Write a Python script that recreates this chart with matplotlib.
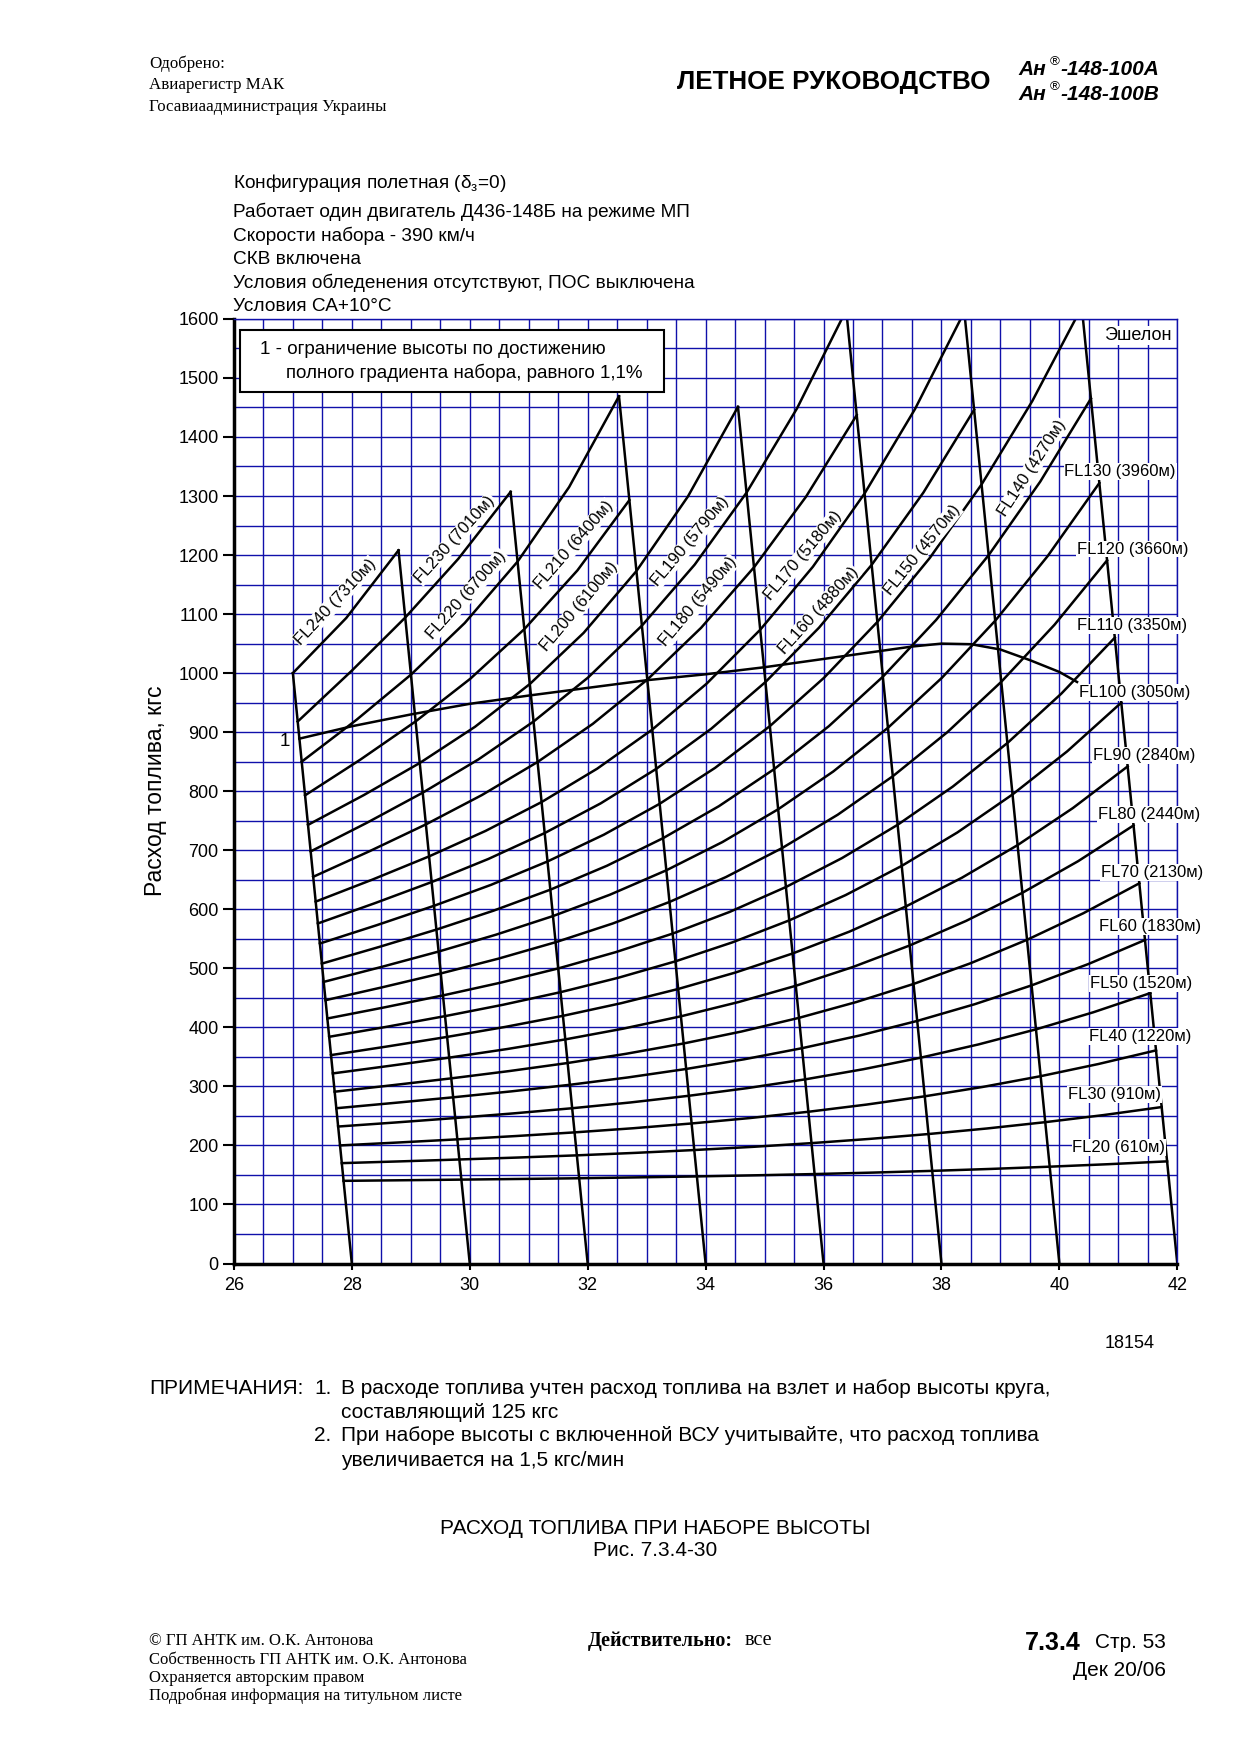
import matplotlib.pyplot as plt
from matplotlib.patches import Rectangle
from matplotlib.ticker import MultipleLocator

plt.rcParams['font.family'] = ['Liberation Sans', 'DejaVu Sans']
plt.rcParams['mathtext.fontset'] = 'custom'
plt.rcParams['mathtext.rm'] = 'Liberation Sans'
plt.rcParams['mathtext.it'] = 'Liberation Sans:italic'

# takeoff mass, t: slanted reference lines and the steps the curves are read at
mass_lines = [28, 30, 32, 34, 36, 38, 40, 42]
mass_steps = [28, 29, 30, 31, 32, 33, 34, 35, 36, 37, 38, 39, 40, 41, 42]

# fuel burnt in the climb, kg, at takeoff mass 28, 29, 30 ... t
fuel_fl20 = [140, 141, 142.1, 143.2, 144.4, 145.9, 147.5, 149.4, 151.5, 154, 156.9, 160.2, 164, 168.2, 173]
fuel_fl30 = [170, 173, 176.2, 179.5, 183.2, 187.4, 192.2, 197.6, 203.9, 211.1, 219.3, 228.7, 239.4, 251.4, 265]
fuel_fl40 = [200, 205, 210.3, 215.9, 222.1, 229.1, 237.2, 246.4, 257, 269.2, 283.2, 299.1, 317.3, 337.9, 361]
fuel_fl50 = [232, 239, 246.4, 254.3, 263, 272.8, 284.1, 297, 311.9, 329, 348.7, 371.1, 396.6, 425.5, 458]
fuel_fl60 = [263, 272.1, 281.5, 291.6, 302.7, 315.2, 329.5, 345.9, 364.7, 386.2, 410.9, 439.1, 471.1, 507.3, 548]
fuel_fl70 = [291, 302.1, 313.6, 326, 339.6, 355.1, 372.7, 392.9, 416.1, 442.9, 473.5, 508.5, 548.3, 593.3, 644]
fuel_fl80 = [322, 335.1, 348.7, 363.3, 379.6, 397.8, 418.7, 442.8, 470.4, 502.2, 538.7, 580.4, 627.9, 681.5, 742]
fuel_fl90 = [353, 368.1, 383.8, 400.7, 419.5, 440.7, 465, 492.9, 525.1, 562.1, 604.7, 653.4, 708.7, 771.4, 842]
fuel_fl100 = [384, 401.1, 419, 438.2, 459.6, 483.9, 511.8, 544, 581.2, 624.1, 673.5, 730.1, 794.5, 867.5, 950]
fuel_fl110 = [415, 434.1, 454.1, 475.7, 499.8, 527.3, 558.8, 595.4, 637.7, 686.7, 743.1, 807.8, 881.6, 965.4, 1060]
fuel_fl120 = [446, 468.2, 491.3, 516.3, 544.2, 575.9, 612.4, 654.6, 703.6, 760.1, 825.3, 900, 985.3, 1082, 1191]
fuel_fl130 = [477, 502.2, 528.4, 556.9, 588.5, 624.6, 666, 713.9, 769.4, 833.5, 907.4, 992.1, 1088.7, 1198.3, 1322]
fuel_fl140 = [508, 536.2, 565.6, 597.6, 633.2, 673.7, 720.5, 774.6, 837.4, 910.1, 993.9, 1090.1, 1199.8, 1324.4, 1465]
fuel_fl150 = [542, 573.2, 605.9, 641.3, 681, 726.3, 778.7, 839.5, 910.2, 992.1, 1086.7, 1195.4, 1319.6, 1460.6, 1620]
fuel_fl160 = [576, 610.3, 646.1, 685.2, 729.1, 779.4, 837.8, 905.7, 984.9, 1076.9, 1183.4, 1305.9, 1446]
fuel_fl170 = [613, 650.3, 689.6, 732.7, 781.6, 838.2, 904.4, 982.2, 1073.5, 1180.2, 1304.2, 1447.5, 1612]
fuel_fl180 = [655, 698.4, 743.8, 793.5, 849.5, 914, 989, 1076.7, 1179.2, 1298.6, 1437]
fuel_fl190 = [698, 746.4, 797.5, 853.8, 918, 992.6, 1080.4, 1183.9, 1305.7, 1448.6, 1615]
fuel_fl200 = [743, 793.6, 847.8, 909.2, 981.5, 1068.2, 1172.9, 1299.3, 1451]
fuel_fl210 = [793, 853.6, 918.2, 990.5, 1074.5, 1174, 1293]
fuel_fl220 = [850, 920.9, 997.4, 1084.9, 1188.9, 1315.1, 1469]
fuel_fl230 = [918, 1003.8, 1094.1, 1193.7, 1307]
fuel_fl240 = [1000, 1093.5, 1208]

flight_levels = [20, 30, 40, 50, 60, 70, 80, 90, 100, 110, 120, 130,
                 140, 150, 160, 170, 180, 190, 200, 210, 220, 230, 240]
level_metres = [610, 910, 1220, 1520, 1830, 2130, 2440, 2840, 3050, 3350, 3660, 3960,
                4270, 4570, 4880, 5180, 5490, 5790, 6100, 6400, 6700, 7010, 7310]
fuel_curves = [fuel_fl20, fuel_fl30, fuel_fl40, fuel_fl50, fuel_fl60, fuel_fl70,
               fuel_fl80, fuel_fl90, fuel_fl100, fuel_fl110, fuel_fl120, fuel_fl130,
               fuel_fl140, fuel_fl150, fuel_fl160, fuel_fl170, fuel_fl180, fuel_fl190,
               fuel_fl200, fuel_fl210, fuel_fl220, fuel_fl230, fuel_fl240]

# line 1: limit of altitude by 1.1 % climb gradient
limit_x = [27.11, 28.0, 29.0, 30.0, 31.0, 32.0, 33.0, 34.0, 35.0, 36.0, 37.0,
           37.5, 38.0, 38.5, 39.0, 39.5, 40.0, 40.3]
limit_y = [889, 910, 930, 948, 962, 975, 988, 998, 1010, 1024, 1038,
           1045, 1050, 1049, 1040, 1022, 1002, 985]

GRID = '#1010aa'
W, H = 1240, 1755


def fx(px):
    return px / W


def fy(py):
    return 1 - py / H


fig = plt.figure(figsize=(12.4, 17.55), dpi=100)
ax = fig.add_axes([fx(233.9), fy(1263.5), (1177.3 - 233.9) / W, (1263.5 - 318.9) / H])

ax.set_xlim(26, 42)
ax.set_ylim(0, 1600)
ax.xaxis.set_major_locator(MultipleLocator(2))
ax.yaxis.set_major_locator(MultipleLocator(100))
ax.xaxis.set_minor_locator(MultipleLocator(0.5))
ax.yaxis.set_minor_locator(MultipleLocator(50))
ax.grid(which='both', color=GRID, lw=1.0, zorder=0)
ax.set_axisbelow(True)
ax.tick_params(which='minor', length=0)
ax.tick_params(axis='y', which='major', length=8, width=1.5, labelsize=13, pad=3)
ax.tick_params(axis='x', which='major', length=4, width=1.5, labelsize=13, pad=6)
for s in ['left', 'bottom']:
    ax.spines[s].set_linewidth(2.5)
for s in ['top', 'right']:
    ax.spines[s].set_color(GRID)
    ax.spines[s].set_linewidth(1.0)
ax.set_ylabel('Расход топлива, кгс', fontsize=16.5, labelpad=8)

# each curve runs from the 28 t line to the line where it ends;
# a point at takeoff mass m and fuel f sits at m - f/1000 on the chart axis
for fuel in fuel_curves:
    masses = mass_steps[:len(fuel)]
    xs = [m - f / 1000 for m, f in zip(masses, fuel)]
    ax.plot(xs, fuel, color='black', lw=1.8, zorder=2, solid_joinstyle='round')

# slanted lines of constant takeoff mass, up to the highest curve end on them
for m in mass_lines:
    tops = [fuel[-1] for fuel in fuel_curves if mass_steps[len(fuel) - 1] == m]
    if m == mass_lines[0]:
        tops = [fuel_fl240[0]]
    top = max(tops)
    ax.plot([m, m - top / 1000], [0, top], color='black', lw=1.8, zorder=2)

ax.plot(limit_x, limit_y, color='black', lw=1.8, zorder=2)
ax.text(26.87, 885, '1', fontsize=13.5, ha='center', va='center')

box_style = dict(facecolor='white', edgecolor='none', pad=0.6)

# labels along the right edge
right_pos = {20: (41.01, 197), 30: (40.93, 286), 40: (41.37, 385), 50: (41.39, 474),
             60: (41.53, 571), 70: (41.57, 662), 80: (41.52, 760), 90: (41.43, 861),
             100: (41.27, 967), 110: (41.23, 1081), 120: (41.24, 1210), 130: (41.03, 1342)}
# rotated labels along the curves
slant_pos = {140: (39.54, 1348, 57), 150: (37.67, 1208, 51), 160: (35.91, 1106, 48),
             170: (35.66, 1200, 50), 180: (33.88, 1121, 50), 190: (33.74, 1223, 50),
             200: (31.86, 1113, 50), 210: (31.76, 1217, 49), 220: (29.95, 1132, 48.5),
             230: (29.75, 1227, 48), 240: (27.72, 1121, 47)}

for fl, m in zip(flight_levels, level_metres):
    label = f'FL{fl} ({m}м)'
    if fl in right_pos:
        x, y = right_pos[fl]
        ax.text(x, y, label, fontsize=12, ha='center', va='center',
                bbox=box_style, zorder=3)
    else:
        x, y, a = slant_pos[fl]
        ax.text(x, y, label, fontsize=12, ha='center', va='center', rotation=a,
                rotation_mode='anchor', bbox=box_style, zorder=3)

ax.add_patch(Rectangle((26.11, 1477), 33.29 - 26.11, 1581 - 1477, facecolor='white',
                       edgecolor='black', lw=1.5, zorder=4))
ax.text(26.44, 1549, '1 - ограничение высоты по достижению', fontsize=13.5,
        va='center', zorder=5)
ax.text(26.89, 1509, 'полного градиента набора, равного 1,1%', fontsize=13.5,
        va='center', zorder=5)
ax.text(41.9, 1572, 'Эшелон', fontsize=13, ha='right', va='center', zorder=5,
        bbox=box_style)

# page header
serif = ['Liberation Serif', 'DejaVu Serif']
for py, t in zip([64, 85, 107.4], ['Одобрено:', 'Авиарегистр МАК',
                                   'Госавиаадминистрация Украины']):
    fig.text(fx(148.8), fy(py), t, family=serif, fontsize=12.2, va='center')
fig.text(fx(677), fy(82), 'ЛЕТНОЕ РУКОВОДСТВО', fontsize=18.7, fontweight='bold',
         va='center')
for py, t in zip([69.4, 94], ['-148-100А', '-148-100В']):
    fig.text(fx(1018), fy(py), 'Ан', fontsize=15, fontweight='bold',
             style='italic', va='center')
    fig.text(fx(1050), fy(py - 7), '®', fontsize=9.5, va='center')
    fig.text(fx(1060), fy(py), t, fontsize=15, fontweight='bold',
             style='italic', va='center')

info = ['Конфигурация полетная ($\\mathrm{δ}_{\\mathrm{з}}$=0)',
        'Работает один двигатель Д436-148Б на режиме МП',
        'Скорости набора - 390 км/ч',
        'СКВ включена',
        'Условия обледенения отсутствуют, ПОС выключена',
        'Условия СА+10°С']
for py, t in zip([183, 212, 236, 259.5, 283, 306.5], info):
    fig.text(fx(233), fy(py), t, fontsize=13.7, va='center')

fig.text(fx(1130), fy(1344), '18154', fontsize=13, ha='center', va='center')

# notes and caption
note_size = 15
fig.text(fx(148.8), fy(1388.8), 'ПРИМЕЧАНИЯ:', fontsize=note_size, va='center')
fig.text(fx(314.5), fy(1388.8), '1.', fontsize=note_size, va='center')
fig.text(fx(341.3), fy(1388.8),
         'В расходе топлива учтен расход топлива на взлет и набор высоты круга,',
         fontsize=note_size, va='center')
fig.text(fx(341.3), fy(1412.3), 'составляющий 125 кгс', fontsize=note_size,
         va='center')
fig.text(fx(314.5), fy(1435.8), '2.', fontsize=note_size, va='center')
fig.text(fx(341.3), fy(1435.8),
         'При наборе высоты с включенной ВСУ учитывайте, что расход топлива',
         fontsize=note_size, va='center')
fig.text(fx(341.3), fy(1460.4), 'увеличивается на 1,5 кгс/мин', fontsize=note_size,
         va='center')
fig.text(fx(654.7), fy(1528.7), 'РАСХОД ТОПЛИВА ПРИ НАБОРЕ ВЫСОТЫ',
         fontsize=note_size, ha='center', va='center')
fig.text(fx(654.7), fy(1550), 'Рис. 7.3.4-30', fontsize=note_size,
         ha='center', va='center')

# page footer
footer = ['© ГП АНТК им. О.К. Антонова', 'Собственность ГП АНТК им. О.К. Антонова',
          'Охраняется авторским правом', 'Подробная информация на титульном листе']
for py, t in zip([1640.6, 1659.6, 1677.6, 1695.5], footer):
    fig.text(fx(148.8), fy(py), t, family=serif, fontsize=12, va='center')
fig.text(fx(587.5), fy(1640.6), 'Действительно:', family=serif, fontsize=14.5,
         fontweight='bold', va='center')
fig.text(fx(745), fy(1640.6), 'все', family=serif, fontsize=14.5, va='center')
fig.text(fx(1025), fy(1643), '7.3.4', fontsize=18, fontweight='bold', va='center')
fig.text(fx(1166), fy(1643), 'Стр. 53', fontsize=15, ha='right', va='center')
fig.text(fx(1166), fy(1670.8), 'Дек 20/06', fontsize=15, ha='right', va='center')

fig.savefig('out.png', dpi=100, facecolor='white')
